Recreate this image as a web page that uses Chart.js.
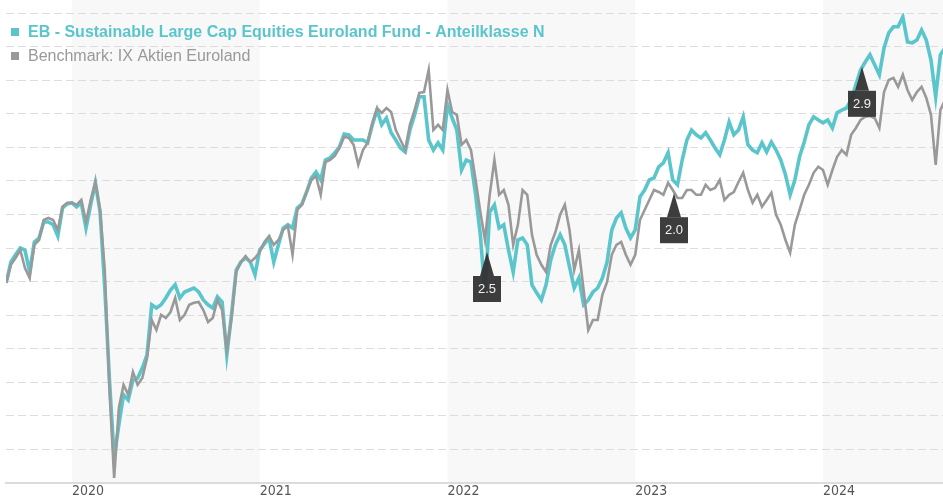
<!DOCTYPE html>
<html><head><meta charset="utf-8">
<script src="https://cdn.jsdelivr.net/npm/chart.js@4.4.1/dist/chart.umd.min.js"></script>
<style>html,body{margin:0;padding:0;background:#fff;}#wrap{width:943px;height:500px;position:relative;}</style>
</head><body><div id="wrap"><canvas id="c" width="943" height="500"></canvas></div>
<script>
const fundName = 'EB - Sustainable Large Cap Equities Euroland Fund - Anteilklasse N';
const benchName = 'Benchmark: IX Aktien Euroland';

// sample dates as decimal years (about every 9 days)
const years = [
2019.65,2019.675,2019.7,2019.725,2019.75,2019.775,2019.8,2019.825,2019.85,2019.875,
2019.9,2019.925,2019.95,2019.975,2020,2020.025,2020.05,2020.075,2020.1,2020.125,
2020.15,2020.175,2020.2,2020.225,2020.25,2020.275,2020.3,2020.325,2020.35,2020.375,
2020.4,2020.425,2020.45,2020.475,2020.5,2020.525,2020.55,2020.575,2020.6,2020.625,
2020.65,2020.675,2020.7,2020.725,2020.75,2020.775,2020.8,2020.825,2020.85,2020.875,
2020.9,2020.925,2020.95,2020.975,2021,2021.025,2021.05,2021.075,2021.1,2021.125,
2021.15,2021.175,2021.2,2021.225,2021.25,2021.275,2021.3,2021.325,2021.35,2021.375,
2021.4,2021.425,2021.45,2021.475,2021.5,2021.525,2021.55,2021.575,2021.6,2021.625,
2021.65,2021.675,2021.7,2021.725,2021.75,2021.775,2021.8,2021.825,2021.85,2021.875,
2021.9,2021.925,2021.95,2021.975,2022,2022.025,2022.05,2022.075,2022.1,2022.125,
2022.15,2022.175,2022.2,2022.225,2022.25,2022.275,2022.3,2022.325,2022.35,2022.375,
2022.4,2022.425,2022.45,2022.475,2022.5,2022.525,2022.55,2022.575,2022.6,2022.625,
2022.65,2022.675,2022.7,2022.725,2022.75,2022.775,2022.8,2022.825,2022.85,2022.875,
2022.9,2022.925,2022.95,2022.975,2023,2023.025,2023.05,2023.075,2023.1,2023.125,
2023.15,2023.175,2023.2,2023.225,2023.25,2023.275,2023.3,2023.325,2023.35,2023.375,
2023.4,2023.425,2023.45,2023.475,2023.5,2023.525,2023.55,2023.575,2023.6,2023.625,
2023.65,2023.675,2023.7,2023.725,2023.75,2023.775,2023.8,2023.825,2023.85,2023.875,
2023.9,2023.925,2023.95,2023.975,2024,2024.025,2024.05,2024.075,2024.1,2024.125,
2024.15,2024.175,2024.2,2024.225,2024.25,2024.275,2024.3,2024.325,2024.35,2024.375,
2024.4,2024.425,2024.45,2024.475,2024.5,2024.525,2024.55,2024.575,2024.6,2024.625,2024.65
];

const fund = [
99.8,105.0,106.8,108.5,108.0,102.5,110.0,111.0,115.0,115.0,
114.3,111.5,118.5,119.5,119.8,118.8,119.8,113.5,119.3,124.8,
117.5,98.5,75.5,56.0,64.3,71.8,70.5,75.5,76.0,78.5,
81.8,94.3,93.5,94.3,96.0,98.0,99.3,96.0,97.5,98.0,
98.5,97.5,95.5,94.3,93.5,96.3,95.0,81.8,91.8,103.0,
105.0,106.0,105.0,101.8,108.0,109.5,111.0,105.0,109.3,113.5,
114.3,113.5,118.5,119.5,122.5,126.0,127.5,125.5,130.5,131.0,
132.3,133.8,137.0,136.8,135.5,135.5,135.5,134.8,139.3,143.0,
139.3,141.0,137.3,135.5,133.5,132.5,138.0,141.8,146.3,146.3,
135.5,133.0,134.8,133.0,144.3,141.0,138.0,128.0,130.5,130.0,
121.8,111.8,97.0,117.5,119.3,113.5,114.3,108.0,102.5,110.5,
111.0,109.3,99.3,97.3,95.5,99.3,105.5,109.3,111.8,109.3,
103.8,98.5,101.0,94.3,95.5,97.5,98.5,101.0,105.0,113.0,
116.0,117.3,113.5,111.0,113.0,121.3,123.0,125.5,126.0,128.8,
129.8,132.3,125.5,124.3,130.5,135.5,138.0,136.8,136.0,137.3,
135.5,133.5,131.8,135.5,140.0,136.8,138.0,141.3,134.3,133.0,
132.3,134.8,132.5,135.0,133.0,130.5,126.8,121.8,125.5,131.3,
135.0,139.3,141.3,140.5,139.8,140.5,138.5,142.3,143.0,143.5,
145.5,149.3,153.0,155.0,156.8,154.3,151.8,158.5,162.3,163.8,
163.8,166.3,160.0,159.8,160.5,163.0,160.5,155.5,146.3,156.8,158.5
];

const bench = [
99.8,104.3,106.0,108.0,103.5,101.0,109.3,110.5,115.5,116.0,
115.5,113.0,118.8,119.8,119.8,119.3,120.5,115.0,120.5,125.0,
118.0,103.0,73.0,51.0,68.5,74.3,71.8,77.5,74.3,76.0,
81.0,90.5,88.0,91.8,91.0,92.5,96.0,90.5,91.8,94.3,
94.8,95.0,93.0,90.0,91.0,95.5,93.0,83.0,91.0,102.5,
105.0,106.5,105.0,106.0,107.5,110.0,111.5,109.3,110.5,113.0,
114.0,106.8,118.0,119.3,122.5,125.5,126.5,121.8,130.0,130.5,
131.5,133.5,136.3,136.0,134.3,129.3,133.0,134.8,139.8,143.5,
142.3,143.5,142.5,138.0,135.5,133.0,139.3,143.0,147.3,147.5,
153.0,138.0,139.3,138.0,148.0,142.5,141.8,134.3,135.5,133.0,
125.5,117.5,110.5,121.8,130.5,121.8,123.0,119.3,109.3,114.3,
123.0,121.8,111.8,106.8,104.3,102.5,109.3,112.5,116.8,119.3,
113.0,103.0,108.0,98.0,88.0,90.5,90.5,96.8,100.0,106.8,
109.3,110.0,106.8,104.3,106.8,115.5,118.0,120.5,123.0,122.5,
121.8,124.8,123.0,121.0,121.0,123.0,123.0,121.8,121.8,124.3,
123.0,123.5,125.5,120.5,121.8,122.5,125.0,127.3,123.0,119.8,
121.8,118.8,120.5,122.3,116.8,114.3,110.5,107.3,114.3,118.0,
121.8,124.3,127.3,128.8,128.0,124.3,128.0,131.3,133.0,131.8,
136.8,138.5,140.5,141.3,141.5,141.0,138.5,147.5,150.5,151.0,
148.8,151.8,148.0,145.5,147.5,148.8,146.0,141.8,129.3,143.0,145.5
];

const yearTicks = [2020, 2021, 2022, 2023, 2024];
const yearLabels = ['2020', '2021', '2022', '2023', '2024'];
const shadedYears = [2020, 2022, 2024];

// distributions
const distDates = [2022.208, 2023.206, 2024.206];
const distValues = [107.5, 122.2, 153.8];
const distLabels = ['2.5', '2.0', '2.9'];

const TEAL = '#5bc5cc';
const GREY = '#999999';

const xMin = 2019.649, xMax = 2024.639;
const yMin = 49.8, yMax = 167.175, yGridCount = 14;

const bandsPlugin = {
  id: 'bands',
  beforeDraw(chart) {
    const {ctx, chartArea, scales: {x}} = chart;
    ctx.save();
    ctx.fillStyle = '#f8f8f8';
    shadedYears.forEach(yr => {
      let a = Math.max(x.getPixelForValue(yr), chartArea.left);
      let b = Math.min(x.getPixelForValue(yr + 1), chartArea.right);
      if (b > a) ctx.fillRect(a, 0, b - a, chartArea.bottom);
    });
    ctx.restore();
  }
};

const distPlugin = {
  id: 'dist',
  afterDatasetsDraw(chart) {
    const {ctx, scales: {x, y}} = chart;
    ctx.save();
    distDates.forEach((d, i) => {
      const px = Math.round(x.getPixelForValue(d));
      const py = y.getPixelForValue(distValues[i]);
      const top = py + 24;
      ctx.fillStyle = 'rgba(51,51,51,0.95)';
      ctx.beginPath();
      ctx.moveTo(px, py);
      ctx.lineTo(px + 7, top);
      ctx.lineTo(px - 7, top);
      ctx.closePath();
      ctx.fill();
      ctx.fillRect(px - 14, top, 28, 26);
      ctx.fillStyle = '#f2f2f2';
      ctx.font = '13px "Liberation Sans", Arial, sans-serif';
      ctx.textAlign = 'center';
      ctx.textBaseline = 'middle';
      ctx.fillText(distLabels[i], px, top + 13.5);
    });
    ctx.restore();
  }
};

const legendPlugin = {
  id: 'customLegend',
  afterDraw(chart) {
    const ctx = chart.ctx;
    ctx.save();
    ctx.textBaseline = 'alphabetic';
    ctx.textAlign = 'left';
    ctx.fillStyle = TEAL;
    ctx.fillRect(11, 28, 8, 8);
    ctx.font = 'bold 16px "Liberation Sans", Arial, sans-serif';
    ctx.fillText(fundName, 28, 36.5);
    ctx.fillStyle = GREY;
    ctx.fillRect(11, 52, 8, 8);
    ctx.font = '16px "Liberation Sans", Arial, sans-serif';
    ctx.fillText(benchName, 28, 61);
    ctx.restore();
  }
};

new Chart(document.getElementById('c'), {
  type: 'line',
  data: {
    datasets: [
      {
        label: fundName,
        data: years.map((v, i) => ({x: v, y: fund[i]})),
        borderColor: TEAL,
        borderWidth: 3.6,
        pointRadius: 0,
        tension: 0,
        order: 2
      },
      {
        label: benchName,
        data: years.map((v, i) => ({x: v, y: bench[i]})),
        borderColor: GREY,
        borderWidth: 2.6,
        pointRadius: 0,
        tension: 0,
        order: 1
      }
    ]
  },
  options: {
    responsive: false,
    animation: false,
    devicePixelRatio: 1,
    layout: {padding: {left: 6, right: 0, top: 13.3, bottom: 0}},
    plugins: {legend: {display: false}, tooltip: {enabled: false}},
    scales: {
      x: {
        type: 'linear',
        min: xMin,
        max: xMax,
        afterBuildTicks: s => { s.ticks = yearTicks.map(v => ({value: v})); },
        afterFit: s => { s.height = 17.2; },
        grid: {display: false, drawTicks: false},
        border: {display: true, color: '#dcdcdc', width: 2},
        ticks: {
          align: 'start',
          padding: 0,
          autoSkip: false,
          maxRotation: 0,
          color: '#555555',
          font: {family: '"DejaVu Sans Condensed", "DejaVu Sans", sans-serif', size: 14},
          callback: (v, i) => yearLabels[i]
        }
      },
      y: {
        type: 'linear',
        min: yMin,
        max: yMax,
        afterBuildTicks: s => {
          const t = [];
          for (let i = 0; i <= yGridCount; i++) t.push({value: yMin + (yMax - yMin) * i / yGridCount});
          s.ticks = t;
        },
        afterFit: s => { s.width = 0; },
        grid: {color: '#dddddd', lineWidth: 1, drawTicks: false},
        border: {display: false, dash: [8, 4]},
        ticks: {display: false}
      }
    }
  },
  plugins: [bandsPlugin, distPlugin, legendPlugin]
});
</script>
</body></html>
